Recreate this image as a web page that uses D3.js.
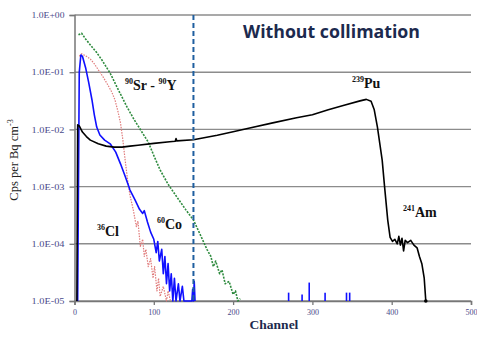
<!DOCTYPE html>
<html>
<head>
<meta charset="utf-8">
<script src="https://cdn.jsdelivr.net/npm/d3@7"></script>
<style>
  body { margin: 0; background: #fff; }
  svg { display: block; }
</style>
</head>
<body>
<svg class="chart" width="477" height="337"></svg>
<script>
// channel, cps per Bq cm-3
const puData = [[3,1e-5],[4,1.2e-2],[6,1.15e-2],[10,9e-3],[15,7.5e-3],[20,6.5e-3],[30,5.6e-3],[40,5.1e-3],
  [50,4.9e-3],[60,4.9e-3],[70,5.1e-3],[80,5.3e-3],[100,5.7e-3],[120,6.1e-3],[127,6.2e-3],[128,6.9e-3],[129,6.3e-3],
  [150,6.6e-3],[180,7.9e-3],[200,9.1e-3],[221,1.06e-2],[250,1.3e-2],[280,1.6e-2],[300,1.8e-2],[320,2.2e-2],
  [340,2.65e-2],[360,3.15e-2],[368,3.35e-2],[374,3.1e-2],[378,2.2e-2],[382,1.1e-2],[388,2.9e-3],[391,1e-3],
  [395,2.6e-4],[398,1.3e-4],[401,1.1e-4],[404,1.2e-4],[407,1.0e-4],[409,1.35e-4],[411,0.95e-4],[413,1.25e-4],
  [415,0.75e-4],[417,1.15e-4],[420,1.05e-4],[424,1.15e-4],[428,0.95e-4],[432,0.85e-4],[435,6e-5],[438,4.5e-5],
  [441,2.5e-5],[443,1e-5]];
const clData = [[4,1e-5],[6,0.1],[8,0.2],[10,0.19],[14,0.12],[18,0.065],[22,0.033],[25,0.018],[28,0.011],[32,8e-3],
  [38,6.5e-3],[45,5.6e-3],[52,4e-3],[58,2.5e-3],[64,1.5e-3],[70,8.7e-4],[76,6e-4],[82,4e-4],[86,3.4e-4],[88,3.8e-4],
  [92,2.4e-4],[96,1.6e-4],[100,1.2e-4],[103,7e-5],[105,1.1e-4],[107,5e-5],[110,8e-5],[112,3e-5],[114,6e-5],
  [116,2e-5],[118,4.5e-5],[120,1.5e-5],[122,3e-5],[124,1e-5],[126,2.5e-5],[128,1e-5],[131,2e-5],[133,1e-5],
  [136,1.8e-5],[138,1e-5],[148,1e-5],[149,1.6e-5],[150,1e-5],[151,2.2e-5],[152,1e-5]];
const clSpikes = [[270,1.4e-5],[287,1.3e-5],[296,2.1e-5],[316,1.4e-5],[343,1.4e-5],[347,1.4e-5]];
const srData = [[6,0.19],[9,0.21],[15,0.19],[20,0.17],[25,0.14],[30,0.11],[36,0.083],[42,0.06],[47,0.045],
  [51,0.033],[55,0.02],[58,0.013],[61,6.5e-3],[64,2.8e-3],[67,1.3e-3],[70,7e-4],[74,4e-4],[78,2e-4],[80,2.5e-4],
  [83,9e-5],[86,1.2e-4],[88,6e-5],[90,8e-5],[93,4e-5],[96,5.5e-5],[99,2.5e-5],[101,4e-5],[104,1.5e-5],
  [106,2.5e-5],[108,1.2e-5],[112,1.8e-5],[116,1e-5],[118,1.5e-5],[121,1e-5]];
const coData = [[5,0.45],[9,0.48],[14,0.38],[20,0.3],[28,0.22],[35,0.16],[45,0.096],[55,0.05],[66,0.025],
  [75,0.015],[85,9e-3],[93,6e-3],[100,3.5e-3],[108,1.95e-3],[118,1.1e-3],[129,6.6e-4],[140,4e-4],[150,2.6e-4],
  [158,1.5e-4],[167,8e-5],[172,6e-5],[175,4e-5],[178,5e-5],[183,3e-5],[186,3.5e-5],[190,2e-5],[195,2.2e-5],
  [200,1.3e-5],[203,1.5e-5],[206,1e-5],[209,1.1e-5]];
const xTicks = [0, 100, 200, 300, 400, 500];
const yTicks = [1e0, 1e-1, 1e-2, 1e-3, 1e-4, 1e-5];
const yTickLabels = ["1.0E+00", "1.0E-01", "1.0E-02", "1.0E-03", "1.0E-04", "1.0E-05"];
const cutChannel = 150;

let svg = d3.select('.chart');
let x = d3.scaleLinear().domain([0, 500]).range([74.5, 471]);
let y = d3.scaleLog().domain([1e-5, 1]).range([301, 15]);

// grid
svg.append('g').selectAll('line').data(yTicks).enter().append('line')
  .attr('x1', x(0)).attr('x2', x(500))
  .attr('y1', d => y(d)).attr('y2', d => y(d))
  .attr('stroke', '#8c8c8c').attr('stroke-width', 1.4);

// y axis
let yAxis = d3.axisLeft(y).tickValues(yTicks).tickSize(5)
  .tickFormat((d, i) => yTickLabels[i]);
let ga = svg.append('g').attr('transform', 'translate(' + x(0) + ',0)').call(yAxis);
ga.select('.domain').attr('stroke', '#777').attr('stroke-width', 1.5);
ga.selectAll('.tick line').attr('stroke', '#777').attr('stroke-width', 1.3);
ga.selectAll('text').attr('font-family', 'Liberation Serif').attr('font-size', 8.5)
  .attr('fill', '#4a4a8a').attr('x', -10).attr('textLength', 33).attr('lengthAdjust', 'spacingAndGlyphs');

// x axis
let xAxis = d3.axisBottom(x).tickValues(xTicks).tickSize(4).tickFormat(d3.format('d'));
let gx = svg.append('g').attr('transform', 'translate(0,' + y(1e-5) + ')').call(xAxis);
gx.select('.domain').attr('stroke', '#777').attr('stroke-width', 1.5);
gx.selectAll('.tick line').attr('stroke', '#777').attr('stroke-width', 1.3);
gx.selectAll('text').attr('font-family', 'Liberation Serif').attr('font-size', 8)
  .attr('fill', '#4a4a8a').attr('dy', '0.9em');

// series
let line = d3.line().x(d => x(d[0])).y(d => y(d[1]));
function series(data, color, width, dash) {
  svg.append('path').datum(data)
    .attr('fill', 'none').attr('stroke', color).attr('stroke-width', width)
    .attr('stroke-dasharray', dash).attr('stroke-linejoin', 'round')
    .attr('d', line);
}
series(srData, '#e07a7a', 1.2, '1.5,1.2');
series(coData, '#2e8b3e', 1.6, '2,1.3');
series(clData, '#1010ff', 1.6, null);
svg.append('g').selectAll('line').data(clSpikes).enter().append('line')
  .attr('x1', d => x(d[0])).attr('x2', d => x(d[0]))
  .attr('y1', y(1e-5)).attr('y2', d => y(d[1]))
  .attr('stroke', '#1010ff').attr('stroke-width', 1.6);
series(puData, '#000', 1.6, null);
svg.append('circle').attr('cx', x(443)).attr('cy', y(1e-5)).attr('r', 1.8).attr('fill', '#000');

// cut line
svg.append('line')
  .attr('x1', x(cutChannel)).attr('x2', x(cutChannel))
  .attr('y1', y(1)).attr('y2', y(1e-5))
  .attr('stroke', '#1f5fa0').attr('stroke-width', 2).attr('stroke-dasharray', '5,3');

// labels
function label(xp, yp, sup, main) {
  let t = svg.append('text').attr('x', xp).attr('y', yp)
    .attr('font-family', 'Liberation Serif').attr('font-weight', 'bold')
    .attr('font-size', 14).attr('fill', '#111');
  sup.forEach(function(s, i) {
    t.append('tspan').attr('font-size', 8).attr('dy', -6).text(s[0]);
    t.append('tspan').attr('font-size', 14).attr('dy', 6).text(s[1]);
  });
}
label(125, 90, [['90', 'Sr - '], ['90', 'Y']]);
label(352, 88, [['239', 'Pu']]);
label(403, 217, [['241', 'Am']]);
label(97, 236, [['36', 'Cl']]);
label(157, 229, [['60', 'Co']]);

svg.append('text').attr('x', 243).attr('y', 38)
  .attr('font-family', 'Open Sans').attr('font-weight', 'bold').attr('font-size', 17)
  .attr('fill', '#1c2a4e').attr('textLength', 177).attr('lengthAdjust', 'spacingAndGlyphs')
  .text('Without collimation');

svg.append('text').attr('x', 274).attr('y', 329).attr('text-anchor', 'middle')
  .attr('font-family', 'Liberation Serif').attr('font-weight', 'bold').attr('font-size', 13.5)
  .attr('fill', '#1c2a4e').text('Channel');

let yl = svg.append('text').attr('transform', 'translate(18,160) rotate(-90)')
  .attr('text-anchor', 'middle').attr('font-family', 'Liberation Serif').attr('font-size', 12.5)
  .attr('fill', '#222');
yl.append('tspan').text('Cps per Bq cm');
yl.append('tspan').attr('font-size', 8).attr('dy', -5).text('-3');
</script>
</body>
</html>
